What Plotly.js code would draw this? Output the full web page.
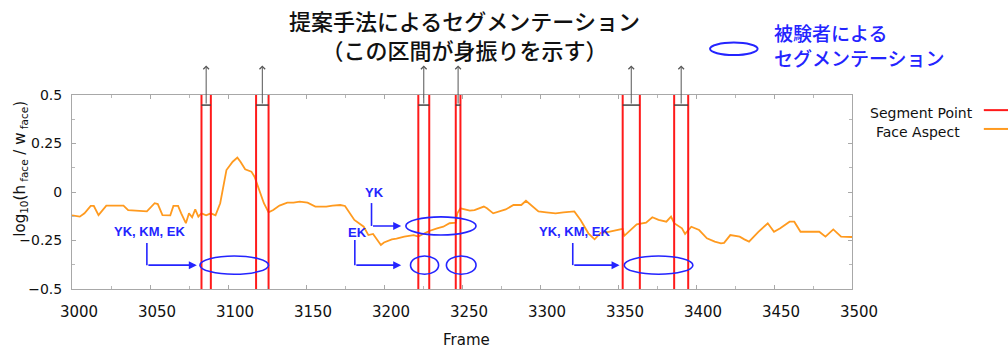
<!DOCTYPE html>
<html>
<head>
<meta charset="utf-8">
<script src="https://cdn.plot.ly/plotly-3.0.1.min.js"></script>
<style>
  html, body { margin: 0; padding: 0; background: #fff; }
  #chart { width: 1008px; height: 348px; }
</style>
</head>
<body>
<div id="chart"></div>
<script>
// Face aspect ratio log10(h_face / w_face) per video frame
const frames = [3000,3005,3008,3012,3014,3017,3022,3033,3036,3048,3053,3055,3058,3063,3065,3068,3070,3073,3075,3077,3079,3081,3083,3086,3089,3092,3095,3099,3103,3106,3108,3111,3115,3117,3123,3126,3129,3133,3138,3142,3146,3151,3156,3163,3167,3172,3175,3177,3181,3187,3190,3193,3198,3200,3205,3208,3213,3219,3222,3226,3229,3234,3238,3242,3246,3247,3249,3255,3258,3264,3266,3270,3274,3278,3283,3288,3291,3294,3299,3304,3310,3315,3322,3326,3331,3335,3339,3344,3351,3353,3354,3357,3362,3368,3372,3376,3381,3384,3386,3391,3393,3397,3402,3407,3412,3416,3418,3422,3428,3431,3434,3440,3446,3450,3454,3460,3463,3467,3475,3479,3483,3488,3493,3500];
const faceAspect = [-0.120,-0.127,-0.110,-0.072,-0.072,-0.119,-0.070,-0.070,-0.093,-0.100,-0.058,-0.062,-0.119,-0.120,-0.072,-0.072,-0.110,-0.161,-0.110,-0.130,-0.090,-0.127,-0.110,-0.120,-0.110,-0.120,-0.058,0.113,0.156,0.177,0.156,0.117,0.105,0.079,-0.058,-0.105,-0.093,-0.070,-0.055,-0.055,-0.050,-0.055,-0.075,-0.075,-0.070,-0.067,-0.072,-0.096,-0.144,-0.179,-0.222,-0.216,-0.273,-0.260,-0.244,-0.240,-0.230,-0.222,-0.230,-0.213,-0.201,-0.187,-0.179,-0.161,-0.158,-0.110,-0.084,-0.096,-0.093,-0.075,-0.084,-0.110,-0.100,-0.090,-0.067,-0.067,-0.045,-0.067,-0.100,-0.105,-0.110,-0.105,-0.100,-0.144,-0.213,-0.244,-0.210,-0.205,-0.193,-0.190,-0.226,-0.205,-0.167,-0.158,-0.130,-0.144,-0.153,-0.127,-0.161,-0.187,-0.216,-0.179,-0.196,-0.239,-0.256,-0.265,-0.262,-0.222,-0.230,-0.244,-0.256,-0.205,-0.161,-0.205,-0.187,-0.153,-0.153,-0.205,-0.205,-0.205,-0.230,-0.193,-0.230,-0.232];

// Segment points found by the proposed method (interval start / end frames)
const segStart = [3083, 3118, 3222, 3246, 3353, 3386];
const segEnd   = [3089, 3126, 3229, 3249, 3364, 3395];

// Gesture intervals marked by the subjects
const subjectNames = ['YK, KM, EK', 'YK', 'EK', 'EK', 'YK, KM, EK'];
const subjectStart = [3082, 3214, 3217, 3240, 3354];
const subjectEnd   = [3126, 3259, 3235, 3259, 3398];

// Tick labels
const xTicks = [3000,3050,3100,3150,3200,3250,3300,3350,3400,3450,3500];
const yTicks = [0.5, 0.25, 0, -0.25, -0.5];
const yTickText = ['0.5', '0.25', '0', '\u22120.25', '\u22120.5'];

const RED = '#ff1a1a';
const ORANGE = '#ff9a1f';
const BLUE = '#2424ff';
const TXT = '#111';
const LATIN = 'DejaVu Sans, Liberation Sans, Arial, sans-serif';
const CJK = 'Noto Sans CJK JP, sans-serif';
const NARROW = 'Liberation Sans Narrow, Liberation Sans, sans-serif';

// vertical red lines for every segment point
const segX = [], segY = [];
segStart.forEach((s, i) => {
  segX.push(s, s, null, segEnd[i], segEnd[i], null);
  segY.push(-0.5, 0.5, null, -0.5, 0.5, null);
});

const traces = [
  { x: frames, y: faceAspect, type: 'scatter', mode: 'lines', name: 'Face Aspect',
    line: { color: ORANGE, width: 1.8 }, showlegend: false, hoverinfo: 'skip' },
  { x: segX, y: segY, type: 'scatter', mode: 'lines', name: 'Segment Point',
    line: { color: RED, width: 2 }, showlegend: false, hoverinfo: 'skip' }
];

const shapes = [];
const annotations = [];

// plain text helper, always centred on its point unless told otherwise
function label(x, y, text, font, extra) {
  return Object.assign({ xref: 'paper', yref: 'paper', x: x, y: y, text: text,
    showarrow: false, xanchor: 'center', yanchor: 'middle', font: font }, extra || {});
}

// bracket joining each pair of segment lines, with an arrow pointing up
const bracketY = 0.448, arrowTipY = 0.652;
segStart.forEach((s, i) => {
  const e = segEnd[i];
  shapes.push({ type: 'line', xref: 'x', yref: 'y', x0: s, x1: e, y0: bracketY, y1: bracketY,
    line: { color: '#444', width: 1.5 } });
  const mid = (s + e) / 2;
  annotations.push({ xref: 'x', yref: 'y', axref: 'x', ayref: 'y', x: mid, y: arrowTipY,
    ax: mid, ay: bracketY, text: '', showarrow: true, arrowhead: 4, arrowsize: 1.1,
    arrowwidth: 1, arrowcolor: '#555' });
});

// subject ovals: the YK-only interval sits on the upper row, the rest on the lower row
const upperRow = -0.175, lowerRow = -0.377, ovalHalf = 0.047;
subjectStart.forEach((s, i) => {
  const yc = subjectNames[i] === 'YK' ? upperRow : lowerRow;
  shapes.push({ type: 'circle', xref: 'x', yref: 'y', x0: s, x1: subjectEnd[i],
    y0: yc - ovalHalf, y1: yc + ovalHalf, line: { color: BLUE, width: 1.6 } });
});

// callouts: label, elbow x, label position, row the arrow points at, arrow end
const callouts = [
  { text: 'YK, KM, EK', lx: 3049.5, ly: -0.206, vx: 3048,  top: -0.263, row: lowerRow, to: 3080 },
  { text: 'YK',         lx: 3193.8, ly: 0.0,    vx: 3192,  top: -0.057, row: upperRow, to: 3211 },
  { text: 'EK',         lx: 3183,   ly: -0.211, vx: 3181.3, top: -0.247, row: lowerRow, to: 3211 },
  { text: 'YK, KM, EK', lx: 3322,   ly: -0.204, vx: 3321,  top: -0.263, row: lowerRow, to: 3351 }
];
callouts.forEach(c => {
  annotations.push({ xref: 'x', yref: 'y', x: c.lx, y: c.ly, text: c.text, showarrow: false,
    xanchor: 'center', yanchor: 'middle',
    font: { family: NARROW, size: 13, color: BLUE, weight: 'bold' } });
  shapes.push({ type: 'line', xref: 'x', yref: 'y', x0: c.vx, x1: c.vx, y0: c.top, y1: c.row,
    line: { color: BLUE, width: 1.6 } });
  annotations.push({ xref: 'x', yref: 'y', axref: 'x', ayref: 'y', x: c.to, y: c.row,
    ax: c.vx, ay: c.row, text: '', showarrow: true, arrowhead: 2, arrowsize: 1,
    arrowwidth: 1.6, arrowcolor: BLUE });
});

// titles, axis labels and key texts
const titleFont = { family: CJK, size: 22, color: TXT, weight: 500 };
const blueFont = { family: CJK, size: 19, color: BLUE, weight: 500 };
const latinFont = { family: LATIN, size: 15, color: TXT };
const keyFont = { family: LATIN, size: 14, color: TXT };
annotations.push(
  label(0.5035, 1.31, '提案手法によるセグメンテーション<br>（この区間が身振りを示す）', titleFont),
  label(0.897, 1.26, '被験者による<br>セグメンテーション', blueFont,
    { xanchor: 'left', align: 'left' }),
  label(-0.0654, 0.62, 'log<sub>10</sub>(h<sub> face</sub> / w<sub> face</sub>)', latinFont,
    { textangle: -90 }),
  label(0.506, -0.263, 'Frame', latinFont),
  label(1.0885, 0.907, 'Segment Point', keyFont),
  label(1.084, 0.809, 'Face Aspect', keyFont)
);

// key for the subject ovals and the two line series
shapes.push(
  { type: 'circle', xref: 'paper', yref: 'paper', x0: 0.818, x1: 0.879, y0: 1.206, y1: 1.270,
    line: { color: BLUE, width: 2 } },
  { type: 'line', xref: 'paper', yref: 'paper', x0: 1.169, x1: 1.2, y0: 0.922, y1: 0.922,
    line: { color: RED, width: 2 } },
  { type: 'line', xref: 'paper', yref: 'paper', x0: 1.169, x1: 1.2, y0: 0.825, y1: 0.825,
    line: { color: ORANGE, width: 2 } }
);

const axisCommon = {
  showline: true, mirror: 'ticks', linecolor: '#a8a8a8', linewidth: 1,
  ticks: 'inside', ticklen: 4, tickcolor: '#a8a8a8', showgrid: false, zeroline: false,
  tickfont: { family: LATIN, size: 15, color: TXT }
};

const layout = {
  width: 1008, height: 348,
  margin: { l: 72, r: 156, t: 95, b: 59 },
  paper_bgcolor: '#fff', plot_bgcolor: '#fff',
  showlegend: false,
  xaxis: Object.assign({}, axisCommon, {
    range: [3000, 3500], tickvals: xTicks, ticktext: xTicks.map(String),
    ticklabelshift: 7, ticklabelstandoff: 9,
    minor: { dtick: 25, ticks: 'inside', ticklen: 3, tickcolor: '#b8b8b8' }
  }),
  yaxis: Object.assign({}, axisCommon, {
    range: [-0.5, 0.5], tickvals: yTicks, ticktext: yTickText,
    ticklabelstandoff: 6, tickfont: { family: LATIN, size: 14, color: TXT },
    minor: { dtick: 0.125, ticks: 'inside', ticklen: 3, tickcolor: '#b8b8b8' }
  }),
  shapes: shapes,
  annotations: annotations
};

Plotly.newPlot('chart', traces, layout, { displayModeBar: false, staticPlot: true });
</script>
</body>
</html>
